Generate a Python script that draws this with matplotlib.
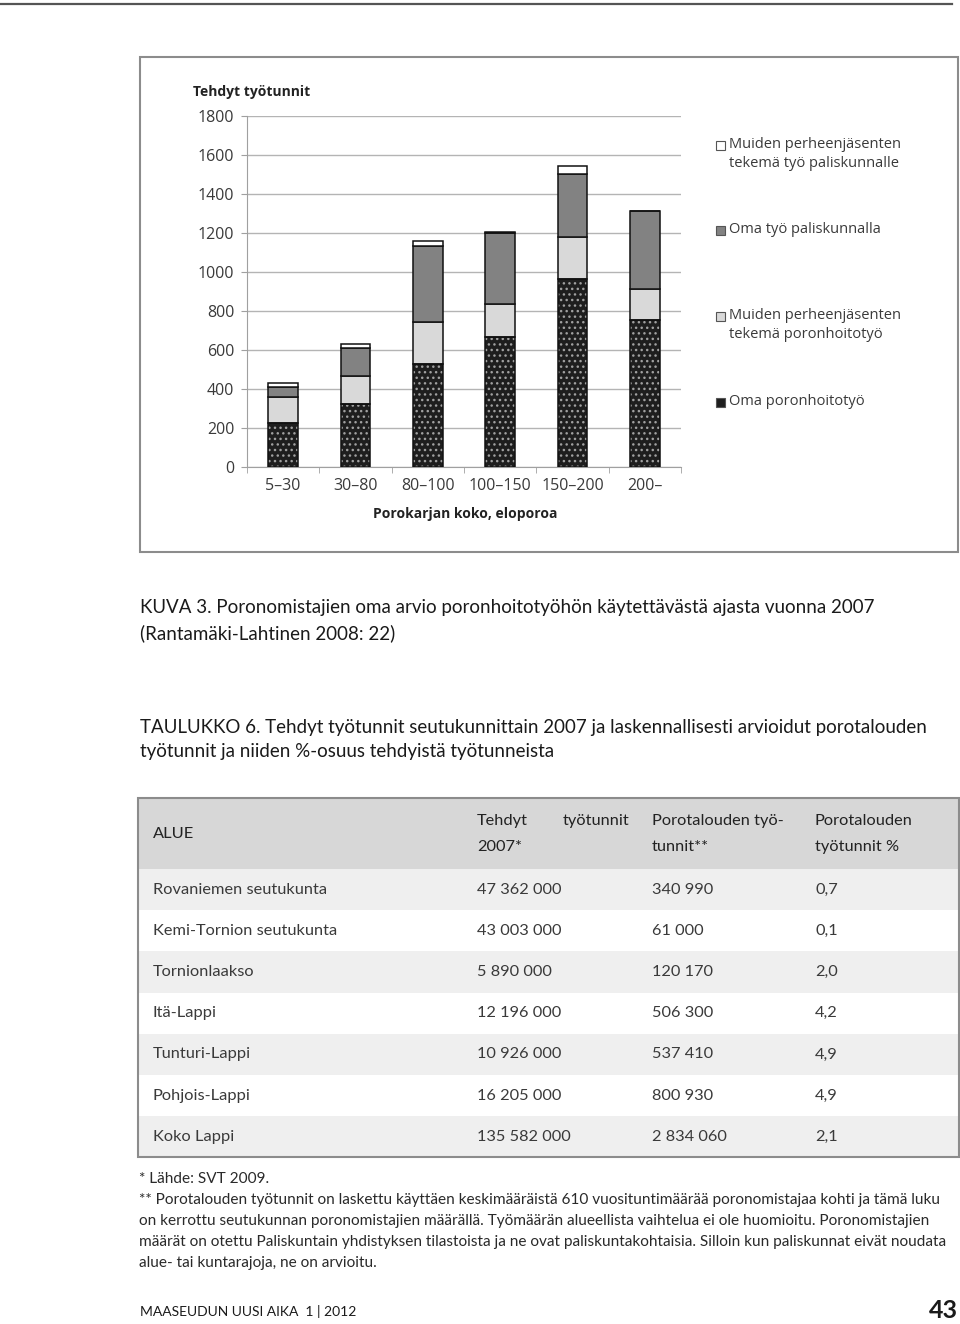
import matplotlib.pyplot as plt
from matplotlib.patches import Rectangle
import numpy as np

# --- chart data ---
categories = ['5–30', '30–80', '80–100', '100–150', '150–200', '200–']
oma_poro = [225, 320, 525, 667, 962, 752]
muiden_poro = [130, 145, 217, 169, 217, 157]
oma_palis = [53, 142, 390, 365, 322, 404]
muiden_palis = [20, 22, 28, 3, 41, 0]
legend_labels = ['Muiden perheenjäsenten\ntekemä työ paliskunnalle',
                 'Oma työ paliskunnalla',
                 'Muiden perheenjäsenten\ntekemä poronhoitotyö',
                 'Oma poronhoitotyö']

# --- table data ---
regions = ['Rovaniemen seutukunta', 'Kemi-Tornion seutukunta', 'Tornionlaakso',
           'Itä-Lappi', 'Tunturi-Lappi', 'Pohjois-Lappi', 'Koko Lappi']
hours_total = ['47 362 000', '43 003 000', '5 890 000', '12 196 000',
               '10 926 000', '16 205 000', '135 582 000']
hours_reindeer = ['340 990', '61 000', '120 170', '506 300', '537 410',
                  '800 930', '2 834 060']
share_pct = ['0,7', '0,1', '2,0', '4,2', '4,9', '4,9', '2,1']

W, H = 960, 1324
fig = plt.figure(figsize=(W / 100, H / 100), dpi=100)
fig.patch.set_facecolor('white')

PAGE = ['Lato', 'DejaVu Sans']
CHART = ['Open Sans', 'DejaVu Sans']

# page-level axes in pixel coordinates
bg = fig.add_axes([0, 0, 1, 1])
bg.set_xlim(0, W)
bg.set_ylim(H, 0)
bg.axis('off')

bg.plot([0, 952], [3.5, 3.5], color='#555555', lw=1.6)
bg.add_patch(Rectangle((140, 57), 818, 495, fill=False, ec='#8c8c8c', lw=1.5))

# --- chart ---
left, right, top, bottom = 247, 681, 115.7, 466.7
ax = fig.add_axes([left / W, 1 - bottom / H, (right - left) / W, (bottom - top) / H])
x = np.arange(len(categories))
bw = 0.41
b1 = np.array(oma_poro)
b2 = b1 + np.array(muiden_poro)
b3 = b2 + np.array(oma_palis)

ax.bar(x, oma_poro, bw, color='#1e1e1e', edgecolor='#a0a0a0', hatch='...', lw=0, zorder=3)
ax.bar(x, oma_poro, bw, fill=False, edgecolor='#111111', lw=1.1, zorder=4)
ax.bar(x, muiden_poro, bw, bottom=b1, color='#d9d9d9', edgecolor='#111111', lw=1.1, zorder=3)
ax.bar(x, oma_palis, bw, bottom=b2, color='#828282', edgecolor='#111111', lw=1.1, zorder=3)
ax.bar(x, muiden_palis, bw, bottom=b3, color='white', edgecolor='#111111', lw=1.1, zorder=3)

ax.set_xlim(-0.5, len(categories) - 0.5)
ax.set_ylim(0, 1800)
ax.set_yticks(np.arange(0, 1801, 200))
ax.yaxis.grid(True, color='#b4b4b4', lw=1)
ax.set_axisbelow(True)
for s in ['top', 'right']:
    ax.spines[s].set_visible(False)
for s in ['left', 'bottom']:
    ax.spines[s].set_color('#a0a0a0')
ax.set_xticks(x)
ax.set_xticklabels(categories, family=CHART, fontsize=11.5, color='#3a3a3a')
ax.set_xticks(np.arange(-0.5, len(categories)), minor=True)
ax.tick_params(axis='x', which='major', length=0, pad=8)
ax.tick_params(axis='x', which='minor', length=4, color='#a0a0a0')
ax.tick_params(axis='y', length=4, color='#a0a0a0', labelsize=11.5, labelcolor='#3a3a3a', pad=5)
for t in ax.get_yticklabels():
    t.set_family(CHART)
ax.set_facecolor('none')

bg.text(193, 92, 'Tehdyt työtunnit', family=CHART, fontsize=10, fontweight='bold',
        color='#222222', va='center', ha='left')
bg.text(465, 514, 'Porokarjan koko, eloporoa', family=CHART, fontsize=10, fontweight='bold',
        color='#222222', va='center', ha='center')

# legend
leg_y = [145, 230, 316, 402]
leg_col = ['white', '#828282', '#d9d9d9', '#1e1e1e']
for yy, col, lab in zip(leg_y, leg_col, legend_labels):
    bg.add_patch(Rectangle((716, yy - 4.5), 9, 9, fc=col, ec='#555555', lw=0.8))
    bg.text(729, yy - 8, lab, family=CHART, fontsize=10.5, color='#3a3a3a',
            va='top', ha='left', linespacing=1.35)

# --- captions ---
tc = '#1a1a1a'
cap_fs = 13.5
bg.text(140, 607, 'KUVA 3. Poronomistajien oma arvio poronhoitotyöhön käytettävästä ajasta vuonna 2007',
        family=PAGE, fontsize=cap_fs, color=tc, va='center')
bg.text(140, 633, '(Rantamäki-Lahtinen 2008: 22)', family=PAGE, fontsize=cap_fs, color=tc, va='center')
bg.text(140, 727, 'TAULUKKO 6. Tehdyt työtunnit seutukunnittain 2007 ja laskennallisesti arvioidut porotalouden',
        family=PAGE, fontsize=cap_fs, color=tc, va='center')
bg.text(140, 752, 'työtunnit ja niiden %-osuus tehdyistä työtunneista',
        family=PAGE, fontsize=cap_fs, color=tc, va='center')

# --- table ---
t_left, t_right, t_top, head_h, row_h = 138, 960, 798, 71, 41.2
bg.add_patch(Rectangle((t_left, t_top), t_right - t_left, head_h, fc='#d7d7d7', ec='none'))
tab_fs = 11.8
for i in range(len(regions)):
    y0 = t_top + head_h + i * row_h
    fc = '#efefef' if i % 2 == 0 else 'white'
    bg.add_patch(Rectangle((t_left, y0), t_right - t_left, row_h, fc=fc, ec='none'))
    yc = y0 + row_h / 2
    for xx, val in zip([153, 477, 652, 815], [regions[i], hours_total[i], hours_reindeer[i], share_pct[i]]):
        bg.text(xx, yc, val, family=PAGE, fontsize=tab_fs, color='#3a3a3a', va='center')
t_bot = t_top + head_h + len(regions) * row_h
bg.add_patch(Rectangle((t_left, t_top), t_right - t_left - 1, t_bot - t_top, fill=False,
                       ec='#8c8c8c', lw=1.5))

hc = '#222222'
bg.text(153, 834, 'ALUE', family=PAGE, fontsize=tab_fs, color=hc, va='center')
bg.text(477, 821, 'Tehdyt', family=PAGE, fontsize=tab_fs, color=hc, va='center')
bg.text(629, 821, 'työtunnit', family=PAGE, fontsize=tab_fs, color=hc, va='center', ha='right')
bg.text(477, 847, '2007*', family=PAGE, fontsize=tab_fs, color=hc, va='center')
bg.text(652, 821, 'Porotalouden työ-', family=PAGE, fontsize=tab_fs, color=hc, va='center')
bg.text(652, 847, 'tunnit**', family=PAGE, fontsize=tab_fs, color=hc, va='center')
bg.text(815, 821, 'Porotalouden', family=PAGE, fontsize=tab_fs, color=hc, va='center')
bg.text(815, 847, 'työtunnit %', family=PAGE, fontsize=tab_fs, color=hc, va='center')

# --- footnotes ---
notes = ['* Lähde: SVT 2009.',
         '** Porotalouden työtunnit on laskettu käyttäen keskimääräistä 610 vuosituntimäärää poronomistajaa kohti ja tämä luku',
         'on kerrottu seutukunnan poronomistajien määrällä. Työmäärän alueellista vaihtelua ei ole huomioitu. Poronomistajien',
         'määrät on otettu Paliskuntain yhdistyksen tilastoista ja ne ovat paliskuntakohtaisia. Silloin kun paliskunnat eivät noudata',
         'alue- tai kuntarajoja, ne on arvioitu.']
for i, ln in enumerate(notes):
    bg.text(139, 1179 + i * 21, ln, family=PAGE, fontsize=11.1, color='#2a2a2a', va='center')

bg.text(140, 1311, 'MAASEUDUN UUSI AIKA  1 | 2012', family=PAGE, fontsize=10, color=tc, va='center')
bg.text(958, 1311, '43', family=PAGE, fontsize=18, fontweight='bold', color=tc, va='center', ha='right')

fig.savefig('out.png', dpi=100)
